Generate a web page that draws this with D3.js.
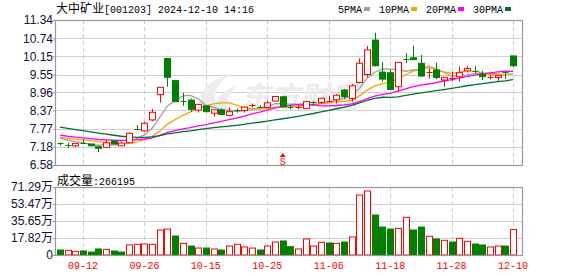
<!DOCTYPE html>
<html>
<head>
<meta charset="utf-8">
<script src="https://cdn.jsdelivr.net/npm/d3@7"></script>
<style>
  body { margin: 0; background: #fff; }
  text { font-family: "Liberation Sans", "Noto Sans CJK SC", sans-serif; }
</style>
</head>
<body>
<svg id="chart"></svg>
<script>
// trading days shown (2024)
var dates = ["09-09","09-10","09-11","09-12","09-13","09-18","09-19","09-20","09-23","09-24",
  "09-25","09-26","09-27","09-30","10-08","10-09","10-10","10-11","10-14","10-15",
  "10-16","10-17","10-18","10-21","10-22","10-23","10-24","10-25","10-28","10-29",
  "10-30","10-31","11-01","11-04","11-05","11-06","11-07","11-08","11-11","11-12",
  "11-13","11-14","11-15","11-18","11-19","11-20","11-21","11-22","11-25","11-26",
  "11-27","11-28","11-29","12-02","12-03","12-04","12-05","12-06","12-09","12-10"];

var open  = [7.29,7.23,7.21,7.30,7.27,7.18,7.16,7.37,7.21,7.31, 7.75,7.70,8.06,8.89,10.08,9.35,8.69,8.71,8.38,8.52,
             8.28,8.39,8.21,8.40,8.37,8.55,8.48,8.47,8.68,8.82, 8.47,8.46,8.44,8.66,8.63,8.67,8.72,9.04,8.76,9.29,
             9.55,10.68,9.63,9.61,9.15,10.05,10.10,9.92,9.62,9.70, 9.37,9.42,9.48,9.67,9.68,9.56,9.45,9.45,9.62,10.16];
var high  = [7.32,7.31,7.29,7.43,7.27,7.18,7.42,7.38,7.34,7.64, 7.89,8.00,8.42,9.13,10.08,9.37,8.95,8.76,8.57,8.55,
             8.39,8.44,8.47,8.44,8.49,8.60,8.55,8.69,8.84,8.85, 8.55,8.54,8.68,8.68,8.77,8.85,8.91,9.08,9.24,10.08,
             10.49,10.92,9.95,9.70,9.95,10.25,10.50,10.19,9.75,9.94, 9.46,9.64,9.81,9.83,9.83,9.67,9.53,9.51,9.64,10.16];
var low   = [7.22,7.13,7.17,7.26,7.20,7.00,7.13,7.26,7.20,7.30, 7.72,7.67,8.02,8.63,9.15,8.66,8.52,8.33,8.30,8.33,
             8.17,8.24,8.17,8.30,8.30,8.47,8.44,8.46,8.67,8.47, 8.41,8.41,8.42,8.52,8.58,8.63,8.60,8.74,8.66,9.26,
             9.46,9.81,9.32,9.04,8.99,9.92,10.03,9.48,9.42,9.40, 9.15,9.32,9.32,9.61,9.59,9.37,9.39,9.34,9.40,9.79];
var close = [7.28,7.22,7.29,7.29,7.21,7.13,7.31,7.27,7.30,7.62, 7.74,7.95,8.31,9.13,9.46,8.66,8.68,8.41,8.57,8.33,
             8.39,8.24,8.33,8.39,8.48,8.56,8.47,8.62,8.83,8.49, 8.46,8.47,8.66,8.65,8.77,8.68,8.87,8.82,9.18,9.92,
             10.36,9.84,9.40,9.06,9.95,10.04,10.04,9.50,9.63,9.45, 9.46,9.43,9.61,9.75,9.66,9.48,9.46,9.51,9.61,9.84];

// closes before 09-09, estimated so the moving averages start where the picture shows them
var preClose = [8.45,8.40,8.38,8.42,8.35,8.30,8.33,8.28,8.25,8.24,
                7.95,7.88,7.80,7.72,7.65,7.58,7.50,7.45,7.40,7.37,
                7.55,7.58,7.50,7.48,7.49,7.55,7.52,7.48,7.47];

// volume in 万 shares
var volume = [5.2,4.9,3.8,4.2,3.1,6.3,5.9,4.2,3.1,10.5, 11.2,11.5,11.2,26.2,27.2,19.9,12.2,9.4,7.3,7.3,
              6.3,5.2,9.4,11.2,8.4,7.3,5.2,9.4,13.6,14.7, 8.7,6.3,16.8,9.4,13.3,12.6,12.2,13.6,18.9,62.9,
              67.1,41.9,29.3,27.2,27.9,39.5,26.2,29.3,19.6,16.8, 15.4,13.6,17.5,14.3,11.5,10.5,8.4,9.4,9.4,26.6195];
var volUp  = [0,1,1,0,0,0,1,0,0,1, 1,1,1,1,1,0,1,0,1,0,
              1,0,1,1,1,1,0,1,1,0, 0,1,1,1,1,0,1,0,1,1,
              1,0,0,0,1,1,0,0,1,0, 1,0,1,1,0,0,1,1,0,1];

var priceTicks = [6.58,7.18,7.77,8.37,8.96,9.55,10.15,10.74,11.34];
var volTicks = [0,17.82,35.65,53.47,71.29];
var dateTicks = ["09-12","09-26","10-15","10-25","11-06","11-18","11-28","12-10"];
var maPeriods = [5,10,20,30];
var maNames = ["5PMA","10PMA","20PMA","30PMA"];
var maColors = ["#a0a0a0","#f5a300","#ff00ff","#00702e"];

var W = 578, H = 276;
var left = 55, right = 522;
var pTop = 20, pBottom = 165;
var vTop = 187, vBottom = 255;
var RED = "#ff0000", GREEN = "#008000";

var svg = d3.select("#chart").attr("width", W).attr("height", H);

var x = d3.scalePoint().domain(dates).range([60, 513]);
var y = d3.scaleLinear().domain([6.58, 11.34]).range([pBottom, pTop]);
var yv = d3.scaleLinear().domain([0, 71.29]).range([vBottom, vTop]);

// ---- grids ----
function grid(top, bottom, scale, ticks) {
  svg.append("g").selectAll("line.h")
    .data(ticks.slice(1, -1)).enter().append("line")
    .attr("x1", left).attr("x2", right)
    .attr("y1", function(d) { return Math.round(scale(d)) + 0.5; })
    .attr("y2", function(d) { return Math.round(scale(d)) + 0.5; })
    .attr("stroke", "#d0d0d0");
  svg.append("g").selectAll("line.v")
    .data(dateTicks).enter().append("line")
    .attr("x1", function(d) { return Math.round(x(d)) + 0.5; })
    .attr("x2", function(d) { return Math.round(x(d)) + 0.5; })
    .attr("y1", top).attr("y2", bottom)
    .attr("stroke", "#cfcfcf")
    .attr("stroke-dasharray", "4,3");
}
grid(pTop, pBottom, y, priceTicks);
grid(vTop, vBottom, yv, volTicks);

// watermark
var wm = svg.append("g").attr("fill", "#ececec");
wm.append("path")
  .attr("d", "M204,112 C196,96 204,80 232,74 C214,84 210,98 222,112 Z M214,112 C214,100 222,90 236,86 C226,96 226,104 230,112 Z");
wm.append("text")
  .attr("x", 240).attr("y", 108)
  .attr("font-size", 30).attr("font-weight", "bold").attr("font-style", "italic")
  .style("font-family", "'Noto Sans CJK SC'")
  .text("东方财富");

// ---- axes ----
var ya = svg.append("g")
  .attr("transform", "translate(" + left + ",0)")
  .call(d3.axisLeft(y).tickValues(priceTicks).tickSize(2).tickFormat(d3.format(".2f")));
var yva = svg.append("g")
  .attr("transform", "translate(" + left + ",0)")
  .call(d3.axisLeft(yv).tickValues(volTicks).tickSize(2)
    .tickFormat(function(d) { return d === 0 ? "0" : d3.format(".2f")(d) + "万"; }));
[ya, yva].forEach(function(a) {
  a.select(".domain").remove();
  a.selectAll(".tick line").attr("stroke", "#999");
  a.selectAll(".tick text")
    .attr("fill", "#10103a")
    .attr("x", -2)
    .style("font-family", "'Liberation Sans', 'Noto Sans CJK SC'")
    .style("font-size", "12px");
});

svg.append("g").selectAll("text")
  .data(dateTicks).enter().append("text")
  .attr("x", function(d) { return x(d); })
  .attr("y", 269)
  .attr("text-anchor", "middle")
  .attr("fill", RED)
  .style("font-family", "'Liberation Mono'")
  .style("font-size", "10px")
  .text(function(d) { return d; });

// ---- moving averages ----
var all = preClose.concat(close);
var pad = preClose.length;
maPeriods.forEach(function(n, k) {
  var ma = close.map(function(c, i) {
    return d3.mean(all.slice(pad + i - n + 1, pad + i + 1));
  });
  svg.append("path")
    .datum(ma)
    .attr("fill", "none")
    .attr("stroke", maColors[k])
    .attr("stroke-width", 1.3)
    .attr("d", d3.line()
      .x(function(d, i) { return x(dates[i]); })
      .y(function(d) { return y(d); }));
});

// ---- candles ----
var cw = 6;
var candles = svg.append("g").selectAll("g")
  .data(dates).enter().append("g");
candles.each(function(d, i) {
  var g = d3.select(this);
  var cx = Math.round(x(d)) + 0.5;
  var up = close[i] >= open[i];
  var col = up ? RED : GREEN;
  g.append("line")
    .attr("x1", cx).attr("x2", cx)
    .attr("y1", y(high[i])).attr("y2", y(low[i]))
    .attr("stroke", col);
  var yt = y(Math.max(open[i], close[i]));
  var yb = y(Math.min(open[i], close[i]));
  if (yb - yt < 1.5) {
    g.append("line")
      .attr("x1", cx - cw / 2).attr("x2", cx + cw / 2)
      .attr("y1", Math.round(yt) + 0.5).attr("y2", Math.round(yt) + 0.5)
      .attr("stroke", col);
  } else {
    g.append("rect")
      .attr("x", cx - cw / 2).attr("width", cw)
      .attr("y", yt).attr("height", yb - yt)
      .attr("fill", up ? "#fff" : GREEN)
      .attr("stroke", col);
  }
});

// ---- volume ----
svg.append("g").selectAll("rect")
  .data(dates).enter().append("rect")
  .attr("x", function(d) { return Math.round(x(d)) - 2.5; })
  .attr("width", 6)
  .attr("y", function(d, i) { return yv(volume[i]); })
  .attr("height", function(d, i) { return vBottom - yv(volume[i]); })
  .attr("fill", function(d, i) { return volUp[i] ? "#fff" : GREEN; })
  .attr("stroke", function(d, i) { return volUp[i] ? RED : GREEN; });

// S marker
var sx = x("10-29");
svg.append("path")
  .attr("d", "M" + (sx - 3) + ",157 L" + sx + ",153 L" + (sx + 3) + ",157 Z")
  .attr("fill", RED);
svg.append("text")
  .attr("x", sx).attr("y", 165)
  .attr("text-anchor", "middle")
  .attr("fill", RED)
  .style("font-family", "'Liberation Mono'")
  .style("font-size", "10px")
  .text("S");

// ---- frames ----
[[pTop, pBottom], [vTop, vBottom]].forEach(function(p) {
  svg.append("rect")
    .attr("x", left + 0.5).attr("y", p[0] + 0.5)
    .attr("width", right - left).attr("height", p[1] - p[0])
    .attr("fill", "none")
    .attr("stroke", "#999")
    .attr("stroke-width", 1.2);
});

// ---- title, legend, volume label ----
var title = svg.append("text").attr("x", 56).attr("y", 13).attr("fill", "#000");
title.append("tspan").style("font-family", "'Noto Sans CJK SC'").style("font-size", "12px").text("大中矿业");
title.append("tspan").style("font-family", "'Liberation Mono'").style("font-size", "10px")
  .text("[001203] 2024-12-10 14:16");

var lx = 338;
maNames.forEach(function(name, k) {
  svg.append("text")
    .attr("x", lx).attr("y", 13)
    .attr("fill", "#000")
    .style("font-family", "'Liberation Mono'")
    .style("font-size", "10px")
    .text(name);
  lx += name.length * 6 + 2;
  svg.append("rect")
    .attr("x", lx).attr("y", 7)
    .attr("width", 6).attr("height", 4)
    .attr("fill", maColors[k]);
  lx += 6 + 9;
});

var vl = svg.append("text").attr("x", 57).attr("y", 185).attr("fill", "#000");
vl.append("tspan").style("font-family", "'Noto Sans CJK SC'").style("font-size", "12px").text("成交量");
vl.append("tspan").style("font-family", "'Liberation Mono'").style("font-size", "10px")
  .text(":" + Math.round(volume[volume.length - 1] * 10000));
</script>
</body>
</html>
